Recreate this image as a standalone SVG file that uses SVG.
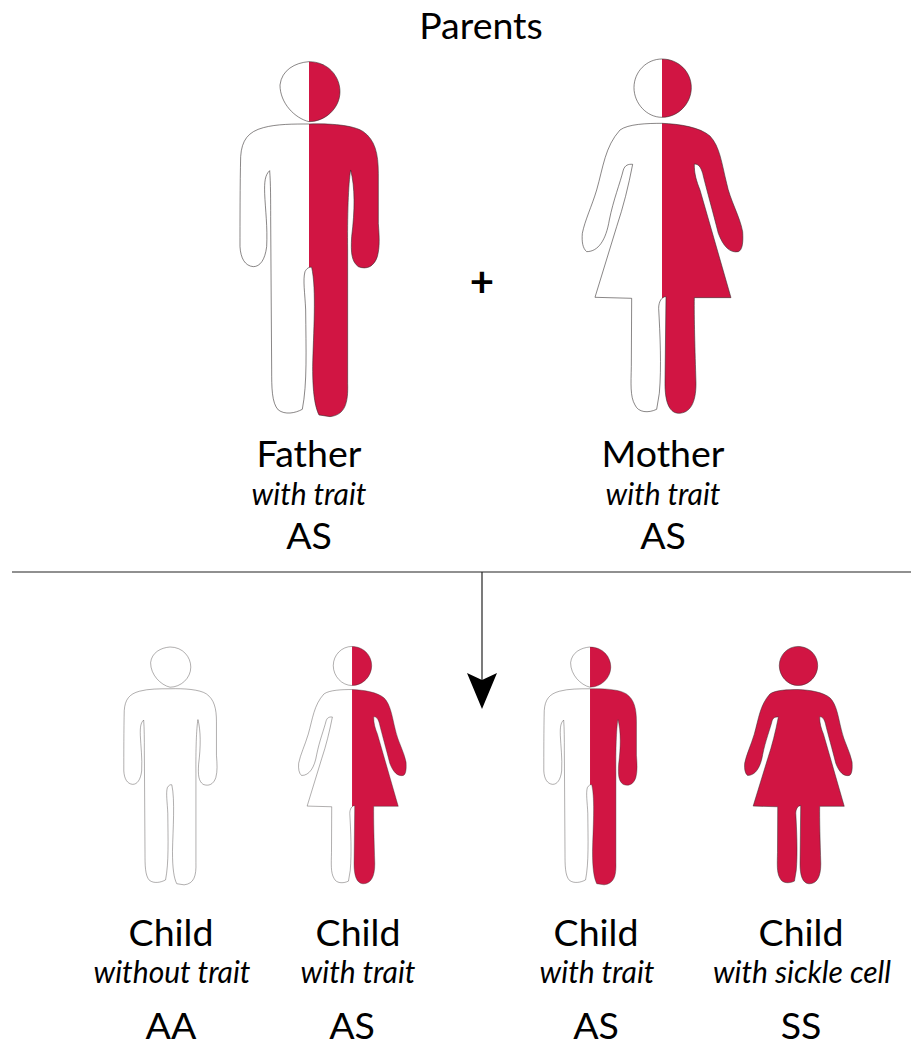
<svg xmlns="http://www.w3.org/2000/svg" xmlns:xlink="http://www.w3.org/1999/xlink" width="911" height="1042" viewBox="0 0 911 1042">
<style>
text{font-family:"Lato","Open Sans",sans-serif;fill:#000;text-anchor:middle}
.n{font-size:37.5px}
.i{font-size:30px;font-style:italic}
.o{fill:none;stroke:#2f2a2a;stroke-width:1.7;vector-effect:non-scaling-stroke;stroke-linejoin:round}
.r{fill:#d11543}
.k{stroke:#2f2a2a;stroke-width:2.2;vector-effect:non-scaling-stroke;stroke-linejoin:round}
.c{stroke:#222;stroke-width:1.2;fill:none}
</style>
<defs>
<path id="mh" d="M267,35 C325,35 360,80 360,125 C360,175 315,215 267,215 C225,205 180,160 180,105 C185,60 225,38 267,35Z"/>
<path id="mb" d="M267,222 C330,220 400,225 430,245 C465,270 475,310 475,370 L475,520 C478,560 480,590 472,620 C462,650 440,660 415,650 C395,635 392,610 395,560 C405,480 405,410 392,360 C385,400 382,500 383,600 L383,1000 C385,1060 375,1095 330,1100 L297,1095 C285,1070 278,1030 278,950 C280,850 290,720 275,652 C268,650 260,655 255,665 C248,690 255,730 257,780 C258,900 262,1000 247,1078 C225,1090 195,1095 175,1080 C155,1060 155,1010 155,960 L152,500 C152,450 152,400 149,362 C135,375 133,395 134,430 C136,480 143,530 140,590 C135,630 120,650 100,650 C75,648 62,625 60,590 C60,520 60,400 62,320 C65,270 85,245 130,233 C170,222 220,222 267,222Z"/>
<path id="wh" d="M276,27 C325,27 364,65 364,113 C364,160 325,202 276,202 C230,202 192,160 192,113 C192,65 230,27 276,27Z"/>
<path id="wb" d="M276,220 C330,222 390,232 420,258 C450,290 455,340 470,400 C480,450 510,500 518,545 C520,575 518,600 505,605 C480,610 460,590 445,550 C430,490 410,420 398,370 C392,350 385,342 373,342 C372,370 380,395 390,420 L483,743 L373,743 C372,800 375,900 378,1000 C378,1060 360,1090 325,1090 C295,1088 285,1050 285,1000 L288,740 C275,740 266,755 266,775 C270,850 275,950 268,1030 L260,1078 C235,1090 205,1088 195,1065 C180,1040 183,1000 184,950 L185,745 L75,742 L140,530 C160,470 175,410 188,343 C175,342 165,345 160,360 C150,400 130,450 118,510 C108,570 85,605 50,605 C38,595 35,575 37,550 C45,510 65,470 80,420 C100,350 105,290 150,240 C175,222 230,220 276,220Z"/>
<clipPath id="mr"><rect x="267" y="0" width="300" height="1200"/></clipPath>
<clipPath id="wr"><rect x="276" y="0" width="300" height="1200"/></clipPath>
<g id="manhalf"><g clip-path="url(#mr)" class="r"><use href="#mh"/><use href="#mb"/></g><g class="o"><use href="#mh"/><use href="#mb"/></g></g>
<g id="womanhalf"><g clip-path="url(#wr)" class="r"><use href="#wh"/><use href="#wb"/></g><g class="o"><use href="#wh"/><use href="#wb"/></g></g>
</defs>

<g id="title"><text class="n" x="481" y="39">Parents</text></g>

<g id="father">
<use href="#manhalf" transform="translate(220,50) scale(.3333)"/>
<text class="n" x="309" y="467">Father</text>
<text class="i" x="309" y="505">with trait</text>
<text class="n" x="309" y="549">AS</text>
</g>
<g id="mother">
<use href="#womanhalf" transform="translate(570,50) scale(.3333)"/>
<text class="n" x="663" y="467">Mother</text>
<text class="i" x="663" y="505">with trait</text>
<text class="n" x="663" y="549">AS</text>
</g>
<g id="plus"><text x="482" y="297" style="font-size:42px;font-weight:700">+</text></g>

<g id="connectors">
<line class="c" x1="12" y1="572" x2="911" y2="572"/>
<line class="c" x1="482" y1="572" x2="482" y2="680"/>
<path d="M467,673 L482,680 L497,673 L482,709Z" fill="#000"/>
</g>

<g id="child-aa">
<g class="o" transform="translate(110.4,639.2) scale(.2233)"><use href="#mh"/><use href="#mb"/></g>
<text class="n" x="171" y="946">Child</text>
<text class="i" x="172" y="983">without trait</text>
<text class="n" x="171" y="1039">AA</text>
</g>
<g id="child-as-girl">
<use href="#womanhalf" transform="translate(290.4,640.4) scale(.2233)"/>
<text class="n" x="358" y="946">Child</text>
<text class="i" x="358" y="983">with trait</text>
<text class="n" x="352" y="1039">AS</text>
</g>
<g id="child-as-boy">
<use href="#manhalf" transform="translate(530.4,639.2) scale(.2233)"/>
<text class="n" x="596" y="946">Child</text>
<text class="i" x="597" y="983">with trait</text>
<text class="n" x="596" y="1039">AS</text>
</g>
<g id="child-ss">
<g class="r k" transform="translate(736.4,640.4) scale(.2233)"><use href="#wh"/><use href="#wb"/></g>
<text class="n" x="801" y="946">Child</text>
<text class="i" x="802" y="983">with sickle cell</text>
<text class="n" x="801" y="1039">SS</text>
</g>
</svg>
